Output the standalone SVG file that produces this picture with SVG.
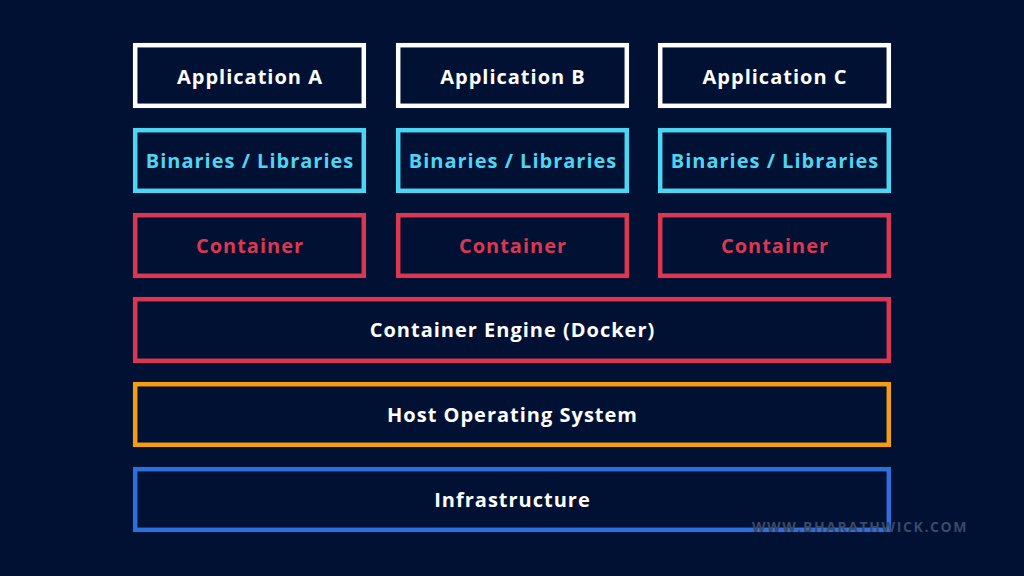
<svg xmlns="http://www.w3.org/2000/svg" width="1024" height="576" viewBox="0 0 1024 576">
<style>
.b{fill:none;stroke-width:4.5}
.t{font-family:"Open Sans","Liberation Sans",sans-serif;font-weight:700;font-size:20px;letter-spacing:1px;text-anchor:middle;dominant-baseline:central}
.w{stroke:#ffffff}.wt{fill:#ffffff}
.c{stroke:#4dd6f4}.ct{fill:#4dd6f4}
.r{stroke:#dc3750}.rt{fill:#dc3750}
.o{stroke:#f49d12}
.bl{stroke:#2f6edc}
</style>
<rect width="1024" height="576" fill="#011133"/>
<g id="appA"><rect class="b w" x="135.2" y="45.2" width="228.6" height="60.6"/><text class="t wt" x="250" y="76">Application A</text></g>
<g id="appB"><rect class="b w" x="398.2" y="45.2" width="228.6" height="60.6"/><text class="t wt" x="513" y="76">Application B</text></g>
<g id="appC"><rect class="b w" x="660.2" y="45.2" width="228.6" height="60.6"/><text class="t wt" x="775" y="76">Application C</text></g>
<g id="binA"><rect class="b c" x="135.2" y="130.2" width="228.6" height="60.6"/><text class="t ct" x="250" y="160.5">Binaries / Libraries</text></g>
<g id="binB"><rect class="b c" x="398.2" y="130.2" width="228.6" height="60.6"/><text class="t ct" x="513" y="160.5">Binaries / Libraries</text></g>
<g id="binC"><rect class="b c" x="660.2" y="130.2" width="228.6" height="60.6"/><text class="t ct" x="775" y="160.5">Binaries / Libraries</text></g>
<g id="conA"><rect class="b r" x="135.2" y="215.2" width="228.6" height="60.6"/><text class="t rt" x="250" y="245">Container</text></g>
<g id="conB"><rect class="b r" x="398.2" y="215.2" width="228.6" height="60.6"/><text class="t rt" x="513" y="245">Container</text></g>
<g id="conC"><rect class="b r" x="660.2" y="215.2" width="228.6" height="60.6"/><text class="t rt" x="775" y="245">Container</text></g>
<g id="engine"><rect class="b r" x="135.2" y="299.2" width="753.6" height="61.6"/><text class="t wt" x="512.5" y="329.5">Container Engine (Docker)</text></g>
<g id="host"><rect class="b o" x="135.2" y="384.2" width="753.6" height="60.6"/><text class="t wt" x="512.5" y="414">Host Operating System</text></g>
<g id="infra"><rect class="b bl" x="135.2" y="469.2" width="753.6" height="60.6"/><text class="t wt" x="512.5" y="499">Infrastructure</text></g>
<g id="connectors"></g>
<text x="860" y="526" font-family="'Open Sans','Liberation Sans',sans-serif" font-weight="700" font-size="14" fill="#3b4868" text-anchor="middle" dominant-baseline="central" letter-spacing="1.6">WWW.BHARATHWICK.COM</text>
</svg>
